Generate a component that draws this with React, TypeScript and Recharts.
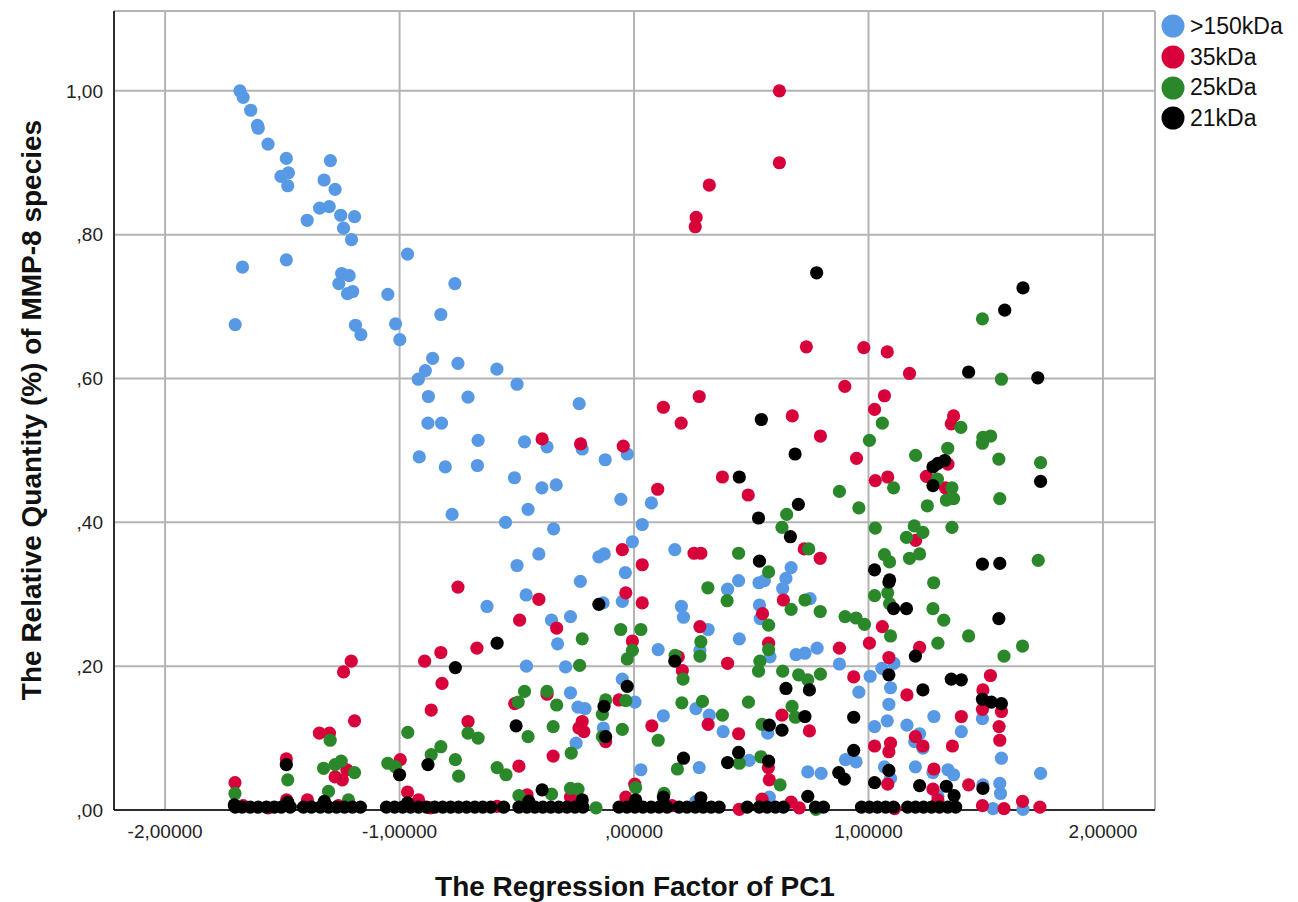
import React from 'react';
import { ScatterChart, Scatter, XAxis, YAxis, CartesianGrid, Legend } from 'recharts';

const xTicks = [-2, -1, 0, 1, 2];
const yTicks = [0, 0.2, 0.4, 0.6, 0.8, 1.0];
const seriesNames = ['>150kDa', '35kDa', '25kDa', '21kDa'];
const seriesColors = ['#5899E5', '#D7003A', '#2A882A', '#000000'];

// [regression factor PC1, relative quantity]
const kda150: [number, number][] = [
  [-1.681, 1.0], [-1.667, 0.991], [-1.635, 0.973], [-1.606, 0.952], [-1.603, 0.948], [-1.561, 0.926],
  [-1.483, 0.906], [-1.295, 0.903], [-1.506, 0.881], [-1.474, 0.886], [-1.477, 0.868], [-1.322, 0.876],
  [-1.275, 0.863], [-1.341, 0.837], [-1.3, 0.839], [-1.394, 0.82], [-1.251, 0.827], [-1.192, 0.825],
  [-1.239, 0.809], [-1.205, 0.793], [-0.966, 0.773], [-1.67, 0.755], [-1.483, 0.765], [-1.247, 0.746],
  [-1.215, 0.743], [-1.259, 0.732], [-1.222, 0.718], [-1.2, 0.721], [-1.05, 0.717], [-0.764, 0.732],
  [-1.701, 0.675], [-1.188, 0.674], [-1.165, 0.661], [-1.017, 0.676], [-0.999, 0.654], [-0.824, 0.689],
  [-0.859, 0.628], [-0.751, 0.621], [-0.585, 0.613], [-0.89, 0.611], [-0.92, 0.599], [-0.499, 0.592],
  [-0.877, 0.575], [-0.708, 0.574], [-0.879, 0.538], [-0.821, 0.538], [-0.665, 0.514], [-0.916, 0.491],
  [-0.805, 0.477], [-0.668, 0.479], [-0.51, 0.462], [-0.776, 0.411], [-0.548, 0.4], [-0.499, 0.34],
  [-0.627, 0.283], [-0.234, 0.565], [-0.467, 0.512], [-0.371, 0.505], [-0.221, 0.502], [-0.123, 0.487],
  [-0.029, 0.495], [-0.393, 0.448], [-0.332, 0.452], [-0.056, 0.432], [0.074, 0.427], [-0.452, 0.418],
  [-0.343, 0.391], [0.035, 0.397], [-0.007, 0.373], [-0.406, 0.356], [-0.15, 0.352], [-0.127, 0.356],
  [0.174, 0.362], [-0.037, 0.33], [-0.229, 0.318], [-0.46, 0.299], [-0.132, 0.288], [-0.05, 0.29],
  [0.202, 0.283], [0.446, 0.319], [0.399, 0.307], [0.533, 0.316], [0.556, 0.319], [0.535, 0.285],
  [-0.352, 0.264], [-0.271, 0.269], [0.211, 0.268], [0.67, 0.337], [0.648, 0.322], [0.634, 0.308],
  [0.751, 0.294], [-0.326, 0.231], [-0.459, 0.2], [-0.292, 0.199], [-0.271, 0.163], [-0.239, 0.143],
  [-0.209, 0.141], [-0.05, 0.182], [0.004, 0.15], [-0.131, 0.114], [-0.247, 0.093], [0.029, 0.056],
  [0.316, 0.251], [0.103, 0.223], [0.281, 0.222], [0.449, 0.238], [0.538, 0.266], [0.691, 0.216],
  [0.729, 0.218], [0.781, 0.225], [0.876, 0.203], [0.58, 0.213], [0.125, 0.131], [0.264, 0.141],
  [0.321, 0.132], [0.38, 0.109], [0.57, 0.107], [0.278, 0.059], [0.491, 0.069], [0.741, 0.053],
  [0.798, 0.051], [0.902, 0.07], [0.577, 0.018], [0.264, 0.012], [1.108, 0.204], [1.057, 0.197],
  [1.007, 0.186], [0.959, 0.164], [1.094, 0.17], [1.087, 0.147], [1.08, 0.124], [1.279, 0.13],
  [1.026, 0.116], [1.164, 0.118], [1.218, 0.106], [1.232, 0.086], [1.197, 0.095], [1.396, 0.109],
  [1.486, 0.127], [1.567, 0.072], [0.947, 0.067], [1.068, 0.06], [1.2, 0.06], [1.275, 0.052],
  [1.339, 0.056], [1.363, 0.049], [1.56, 0.037], [1.563, 0.023], [1.488, 0.035], [1.734, 0.051],
  [1.094, 0.044], [1.296, 0.019], [1.531, 0.002], [1.659, 0.001],
];

const kda35: [number, number][] = [
  [0.62, 1.0], [0.62, 0.9], [0.321, 0.869], [0.265, 0.824], [0.261, 0.811], [0.735, 0.644],
  [0.98, 0.643], [1.08, 0.637], [1.175, 0.607], [0.899, 0.589], [1.068, 0.576], [1.026, 0.557],
  [0.675, 0.548], [0.795, 0.52], [1.363, 0.548], [1.353, 0.537], [0.949, 0.489], [1.029, 0.458],
  [1.082, 0.463], [1.247, 0.464], [1.339, 0.481], [1.328, 0.448], [1.201, 0.375], [0.726, 0.363],
  [0.794, 0.35], [0.637, 0.292], [0.125, 0.56], [0.278, 0.575], [0.201, 0.538], [-0.392, 0.516],
  [-0.228, 0.509], [-0.046, 0.506], [0.377, 0.463], [0.487, 0.438], [0.101, 0.446], [-0.05, 0.362],
  [0.035, 0.341], [0.256, 0.357], [0.285, 0.357], [-0.035, 0.302], [-0.406, 0.293], [0.035, 0.288],
  [0.548, 0.273], [-0.488, 0.264], [-0.751, 0.31], [-1.206, 0.207], [-1.239, 0.192], [-0.893, 0.207],
  [-0.865, 0.139], [-1.192, 0.124], [-1.342, 0.107], [-1.299, 0.107], [-1.483, 0.071], [-0.997, 0.07],
  [-1.702, 0.038], [-1.275, 0.046], [-1.244, 0.042], [-1.225, 0.056], [-0.966, 0.025], [-1.393, 0.014],
  [-1.482, 0.014], [-0.919, 0.014], [-0.33, 0.253], [-0.67, 0.225], [-0.824, 0.219], [-0.819, 0.176],
  [-0.007, 0.235], [-0.708, 0.123], [-0.509, 0.148], [-0.371, 0.161], [-0.221, 0.123], [-0.235, 0.114],
  [-0.214, 0.109], [-0.064, 0.153], [-0.121, 0.095], [-0.345, 0.075], [-0.491, 0.061], [0.003, 0.036],
  [-0.456, 0.021], [-0.271, 0.018], [-0.035, 0.018], [-0.584, 0.005], [0.281, 0.255], [0.574, 0.232],
  [0.206, 0.194], [0.189, 0.213], [0.399, 0.204], [0.876, 0.225], [0.076, 0.117], [0.316, 0.119],
  [0.446, 0.106], [0.631, 0.132], [0.748, 0.11], [0.573, 0.059], [0.577, 0.042], [0.546, 0.015],
  [0.449, 0.001], [0.67, 0.011], [0.937, 0.185], [1.059, 0.255], [1.004, 0.232], [1.218, 0.226],
  [1.087, 0.212], [1.164, 0.16], [1.52, 0.187], [1.488, 0.167], [1.486, 0.14], [1.567, 0.137],
  [1.396, 0.13], [1.557, 0.116], [1.56, 0.097], [1.2, 0.102], [1.232, 0.089], [1.358, 0.089],
  [1.026, 0.089], [1.094, 0.093], [1.087, 0.081], [1.279, 0.057], [1.082, 0.036], [1.275, 0.029],
  [1.296, 0.014], [1.427, 0.035], [1.486, 0.006], [1.578, 0.002], [1.657, 0.012], [1.731, 0.004],
  [1.111, 0.002], [-1.667, 0.006], [-1.56, 0.003], [-1.261, 0.006], [-0.868, 0.003], [0.162, 0.006],
  [0.705, 0.003],
];

const kda25: [number, number][] = [
  [1.486, 0.683], [1.567, 0.599], [1.059, 0.538], [1.004, 0.514], [1.394, 0.532], [1.488, 0.518],
  [1.521, 0.52], [1.486, 0.51], [1.338, 0.503], [1.201, 0.493], [1.556, 0.488], [1.734, 0.483],
  [1.294, 0.46], [1.107, 0.448], [0.876, 0.443], [0.959, 0.42], [1.251, 0.423], [1.356, 0.448],
  [1.332, 0.431], [1.363, 0.433], [1.56, 0.433], [0.651, 0.411], [0.631, 0.393], [1.029, 0.392],
  [1.195, 0.395], [1.232, 0.386], [1.162, 0.379], [1.356, 0.393], [0.745, 0.363], [1.068, 0.355],
  [1.09, 0.345], [1.175, 0.35], [1.218, 0.356], [1.724, 0.347], [1.278, 0.316], [1.026, 0.298],
  [1.082, 0.302], [0.729, 0.292], [0.67, 0.279], [0.794, 0.276], [1.275, 0.28], [0.9, 0.269],
  [0.947, 0.267], [1.321, 0.264], [0.446, 0.357], [0.574, 0.331], [0.315, 0.309], [0.397, 0.291],
  [-1.296, 0.097], [-0.965, 0.108], [-0.865, 0.077], [-1.324, 0.058], [-1.275, 0.063], [-1.249, 0.068],
  [-1.192, 0.052], [-1.05, 0.065], [-1.018, 0.06], [-1.477, 0.042], [-1.702, 0.023], [-1.303, 0.026],
  [-1.218, 0.014], [-0.057, 0.251], [0.029, 0.251], [-0.221, 0.238], [-0.007, 0.222], [-0.029, 0.21],
  [-0.232, 0.201], [-0.467, 0.165], [-0.371, 0.165], [-0.494, 0.15], [-0.33, 0.146], [-0.121, 0.153],
  [-0.135, 0.133], [-0.035, 0.152], [-0.345, 0.116], [-0.05, 0.112], [-0.452, 0.102], [-0.135, 0.102],
  [-0.708, 0.107], [-0.665, 0.1], [-0.824, 0.088], [-0.762, 0.07], [-0.748, 0.047], [-0.584, 0.059],
  [-0.546, 0.049], [-0.268, 0.079], [-0.491, 0.02], [-0.271, 0.03], [-0.239, 0.029], [-0.352, 0.022],
  [0.007, 0.031], [0.285, 0.234], [0.281, 0.214], [0.175, 0.215], [0.574, 0.257], [0.574, 0.223],
  [0.537, 0.207], [0.531, 0.193], [0.634, 0.193], [0.702, 0.188], [0.741, 0.181], [0.795, 0.189],
  [0.209, 0.182], [0.204, 0.149], [0.292, 0.151], [0.377, 0.132], [0.488, 0.15], [0.674, 0.144],
  [0.688, 0.129], [0.546, 0.119], [0.103, 0.097], [0.185, 0.057], [0.449, 0.065], [0.541, 0.074],
  [0.623, 0.035], [0.128, 0.023], [0.776, 0.001], [1.09, 0.287], [0.983, 0.258], [1.094, 0.242],
  [1.296, 0.232], [1.427, 0.242], [1.578, 0.214], [1.657, 0.228], [-0.162, 0.003],
];

const kda21: [number, number][] = [
  [0.779, 0.747], [1.659, 0.726], [1.581, 0.695], [1.427, 0.609], [1.722, 0.601], [0.687, 0.495],
  [1.275, 0.477], [1.296, 0.482], [1.325, 0.486], [1.275, 0.451], [1.734, 0.457], [0.701, 0.425],
  [0.667, 0.38], [1.486, 0.342], [1.56, 0.343], [1.026, 0.334], [1.09, 0.32], [1.087, 0.317],
  [1.107, 0.28], [1.162, 0.28], [1.556, 0.266], [0.543, 0.543], [0.449, 0.463], [0.531, 0.406],
  [0.535, 0.346], [-0.15, 0.286], [-1.483, 0.063], [-1.0, 0.049], [-0.879, 0.063], [-1.705, 0.007],
  [-1.477, 0.011], [-1.321, 0.012], [-0.966, 0.01], [-0.584, 0.232], [-0.762, 0.198], [-0.029, 0.172],
  [-0.128, 0.144], [-0.503, 0.117], [-0.121, 0.102], [-0.392, 0.028], [-0.221, 0.014], [0.007, 0.014],
  [-0.449, 0.012], [0.174, 0.207], [0.648, 0.169], [0.748, 0.167], [0.729, 0.13], [0.577, 0.118],
  [0.631, 0.111], [0.937, 0.129], [0.211, 0.072], [0.399, 0.066], [0.446, 0.08], [0.574, 0.068],
  [0.873, 0.052], [0.897, 0.043], [0.937, 0.083], [0.125, 0.018], [0.285, 0.017], [0.741, 0.019],
  [1.2, 0.214], [1.087, 0.188], [1.353, 0.182], [1.396, 0.181], [1.232, 0.167], [1.486, 0.154],
  [1.524, 0.15], [1.567, 0.148], [1.087, 0.055], [1.026, 0.038], [1.218, 0.034], [1.332, 0.033],
  [1.365, 0.02], [1.488, 0.03],
  // points lying on the zero line
  [-1.701, 0.004], [-1.671, 0.004], [-1.637, 0.004], [-1.603, 0.004], [-1.568, 0.004], [-1.534, 0.004],
  [-1.504, 0.004], [-1.466, 0.004], [-1.41, 0.004], [-1.376, 0.004], [-1.338, 0.004], [-1.303, 0.004],
  [-1.269, 0.004], [-1.235, 0.004], [-1.201, 0.004], [-1.167, 0.004], [-1.056, 0.004], [-1.021, 0.004],
  [-0.987, 0.004], [-0.953, 0.004], [-0.919, 0.004], [-0.885, 0.004], [-0.85, 0.004], [-0.816, 0.004],
  [-0.782, 0.004], [-0.748, 0.004], [-0.714, 0.004], [-0.679, 0.004], [-0.645, 0.004], [-0.611, 0.004],
  [-0.556, 0.004], [-0.491, 0.004], [-0.457, 0.004], [-0.423, 0.004], [-0.389, 0.004], [-0.355, 0.004],
  [-0.321, 0.004], [-0.286, 0.004], [-0.252, 0.004], [-0.218, 0.004], [-0.064, 0.004], [-0.03, 0.004],
  [0.004, 0.004], [0.038, 0.004], [0.073, 0.004], [0.107, 0.004], [0.141, 0.004], [0.192, 0.004],
  [0.226, 0.004], [0.261, 0.004], [0.295, 0.004], [0.329, 0.004], [0.363, 0.004], [0.483, 0.004],
  [0.534, 0.004], [0.568, 0.004], [0.603, 0.004], [0.637, 0.004], [0.774, 0.004], [0.808, 0.004],
  [0.97, 0.004], [1.004, 0.004], [1.038, 0.004], [1.073, 0.004], [1.107, 0.004], [1.167, 0.004],
  [1.201, 0.004], [1.235, 0.004], [1.269, 0.004], [1.303, 0.004], [1.338, 0.004], [1.372, 0.004],
];

const seriesData = [kda150, kda35, kda25, kda21];

const fontFamily = '"Liberation Sans", Arial, sans-serif';

const fmtX = (v: number) => v.toFixed(5).replace('.', ',').replace(/^(-?)0,/, '$1,');
const fmtY = (v: number) => v.toFixed(2).replace('.', ',').replace(/^0,/, ',');

const makeDot = (color: string) => (props: any) => (
  <circle cx={props.cx} cy={props.cy} r={6.6} fill={color} />
);

const renderLegend = () => (
  <div style={{ fontFamily, fontSize: 23, color: '#111' }}>
    {seriesNames.map((name, i) => (
      <div key={name} style={{ display: 'flex', alignItems: 'center', height: 30.7 }}>
        <svg width={24} height={24}>
          <circle cx={12} cy={12} r={11.5} fill={seriesColors[i]} />
        </svg>
        <span style={{ marginLeft: 5 }}>{name}</span>
      </div>
    ))}
  </div>
);

const titleStyle = { fontFamily, fontSize: 28, fontWeight: 700, fill: '#111' };

export default function App() {
  return (
    <div style={{ position: 'absolute', left: 0, top: 0 }}>
      <ScatterChart width={1298} height={902} margin={{ top: 11, right: 143, bottom: 0, left: 0 }}>
        <CartesianGrid stroke="#b4b4b4" strokeWidth={2} />
        <XAxis
          type="number"
          dataKey="x"
          domain={[-2.218, 2.222]}
          ticks={xTicks}
          interval={0}
          tickFormatter={fmtX}
          height={92}
          tickLine={false}
          tickMargin={9}
          axisLine={{ stroke: '#000', strokeWidth: 1.5 }}
          tick={{ fill: '#222', fontSize: 19, fontFamily }}
          label={{
            content: () => (
              <text x={635} y={886} textAnchor="middle" dominantBaseline="central" style={titleStyle}>
                The Regression Factor of PC1
              </text>
            ),
          }}
        />
        <YAxis
          type="number"
          dataKey="y"
          domain={[0, 1.111]}
          ticks={yTicks}
          interval={0}
          tickFormatter={fmtY}
          width={114}
          tickLine={false}
          tickMargin={5}
          axisLine={{ stroke: '#000', strokeWidth: 1.5 }}
          tick={{ fill: '#222', fontSize: 19, fontFamily }}
          label={{
            content: () => (
              <text
                x={31}
                y={410}
                transform="rotate(-90, 31, 410)"
                textAnchor="middle"
                dominantBaseline="central"
                style={titleStyle}
              >
                The Relative Quantity (%) of MMP-8 species
              </text>
            ),
          }}
        />
        <Legend
          layout="vertical"
          align="center"
          verticalAlign="middle"
          wrapperStyle={{ left: 1161, top: 11, width: 137, right: 'auto', bottom: 'auto' }}
          content={renderLegend}
        />
        {seriesData.map((arr, i) => (
          <Scatter
            key={seriesNames[i]}
            name={seriesNames[i]}
            data={arr.map(([x, y]) => ({ x, y }))}
            fill={seriesColors[i]}
            shape={makeDot(seriesColors[i])}
            isAnimationActive={false}
          />
        ))}
      </ScatterChart>
    </div>
  );
}
